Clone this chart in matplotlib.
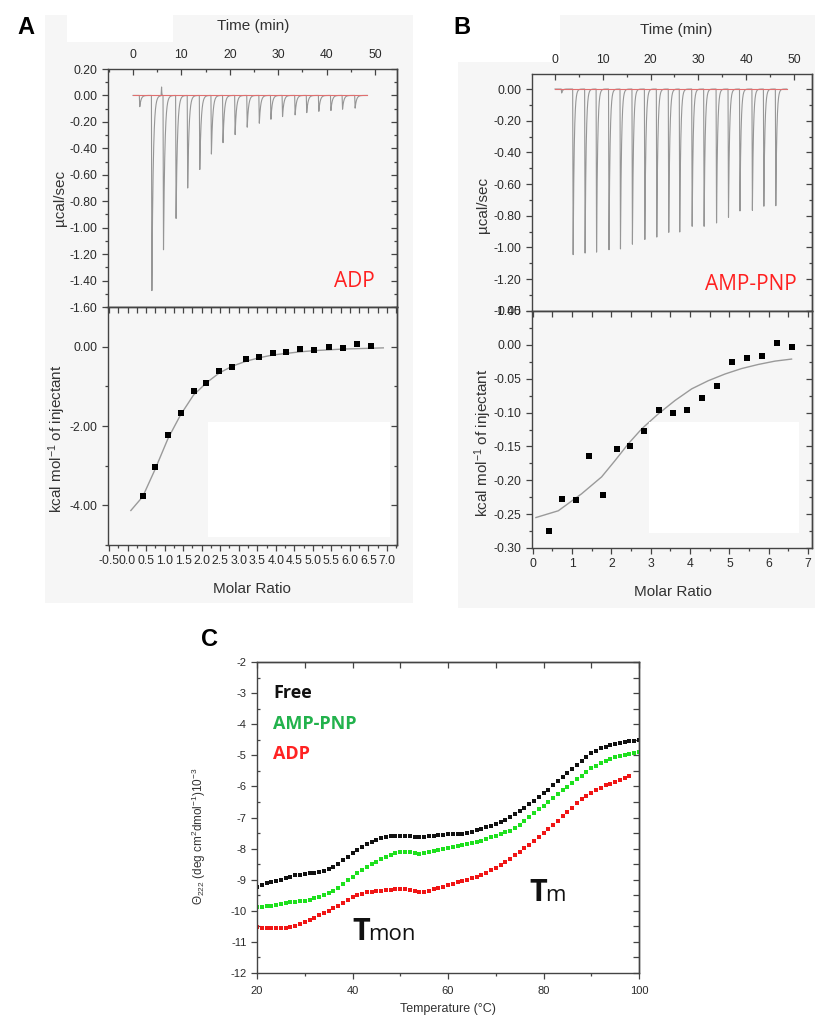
import numpy as np
import matplotlib
matplotlib.use("Agg")
import matplotlib.pyplot as plt
from matplotlib.patches import Rectangle
from matplotlib.ticker import MultipleLocator, FuncFormatter

plt.rcParams['font.family'] = ['Liberation Sans', 'DejaVu Sans']
plt.rcParams['axes.unicode_minus'] = False
plt.rcParams['mathtext.fontset'] = 'custom'
plt.rcParams['mathtext.rm'] = 'Liberation Sans'
plt.rcParams['mathtext.it'] = 'Liberation Sans:italic'

# ---------------- DATA ----------------
# Panel A (ADP) raw ITC: injection times (min) and peak heights (ucal/sec)
A_inj_time = [1.4, 3.9, 6.3, 8.9, 11.3, 13.8, 16.2, 18.6, 21.1, 23.6, 26.1, 28.5,
              30.9, 33.5, 35.9, 38.4, 40.9, 43.3, 45.9]
A_peak = [-0.085, -1.476, -1.167, -0.93, -0.70, -0.56, -0.443, -0.357, -0.296, -0.24,
          -0.21, -0.18, -0.16, -0.147, -0.13, -0.12, -0.114, -0.104, -0.096]
A_spike_time = [5.9]
A_spike = [0.065]
# Panel A integrated heats
A_ratio = [0.41, 0.74, 1.09, 1.43, 1.78, 2.13, 2.48, 2.83, 3.19, 3.55, 3.92, 4.28,
           4.66, 5.04, 5.43, 5.81, 6.19, 6.58]
A_heat = [-3.76, -3.03, -2.23, -1.67, -1.11, -0.91, -0.61, -0.50, -0.30, -0.26, -0.15,
          -0.13, -0.06, -0.08, -0.01, -0.03, 0.06, 0.02]
A_fit_x = [0.09, 0.41, 0.74, 1.09, 1.43, 1.78, 2.13, 2.48, 2.83, 3.19, 3.55, 3.92,
           4.28, 4.66, 5.04, 5.43, 5.81, 6.19, 6.58, 6.9]
A_fit_y = [-4.13, -3.78, -3.10, -2.32, -1.72, -1.22, -0.91, -0.66, -0.49, -0.37, -0.28,
           -0.21, -0.17, -0.13, -0.10, -0.08, -0.06, -0.05, -0.04, -0.03]

# Panel B (AMP-PNP) raw ITC
B_inj_time = [1.4, 3.8, 6.3, 8.7, 11.3, 13.7, 16.2, 18.8, 21.3, 23.8, 26.1, 28.7,
              31.2, 33.8, 36.3, 38.7, 41.3, 43.7, 46.2]
B_peak = [-0.025, -1.046, -1.036, -1.03, -1.015, -1.01, -0.98, -0.95, -0.935, -0.905,
          -0.903, -0.867, -0.867, -0.846, -0.81, -0.77, -0.766, -0.74, -0.737]
# Panel B integrated heats
B_ratio = [0.41, 0.75, 1.09, 1.44, 1.78, 2.13, 2.48, 2.84, 3.21, 3.56, 3.93, 4.31,
           4.68, 5.06, 5.44, 5.83, 6.22, 6.60]
B_heat = [-0.275, -0.227, -0.229, -0.164, -0.222, -0.154, -0.149, -0.127, -0.096,
          -0.101, -0.096, -0.078, -0.061, -0.026, -0.019, -0.017, 0.003, -0.003]
B_fit_x = [0.08, 0.65, 1.24, 1.75, 2.09, 2.43, 2.77, 3.19, 3.62, 4.04, 4.46, 4.89,
           5.31, 5.73, 6.16, 6.58]
B_fit_y = [-0.255, -0.245, -0.220, -0.195, -0.171, -0.146, -0.124, -0.102, -0.082,
           -0.065, -0.053, -0.043, -0.035, -0.029, -0.024, -0.021]

# Panel C: CD melting curves
temp = list(range(20, 101))
free = [-9.22, -9.17, -9.12, -9.08, -9.03, -9.00, -8.95, -8.90, -8.86, -8.84, -8.82,
        -8.79, -8.77, -8.74, -8.71, -8.67, -8.60, -8.50, -8.38, -8.26, -8.14, -8.04,
        -7.94, -7.86, -7.78, -7.72, -7.67, -7.63, -7.60, -7.59, -7.59, -7.60, -7.61,
        -7.63, -7.63, -7.62, -7.60, -7.58, -7.56, -7.55, -7.54, -7.54, -7.53, -7.52,
        -7.50, -7.46, -7.41, -7.36, -7.30, -7.26, -7.21, -7.16, -7.07, -6.99, -6.90,
        -6.80, -6.69, -6.57, -6.46, -6.34, -6.22, -6.10, -5.97, -5.84, -5.71, -5.57,
        -5.44, -5.30, -5.17, -5.04, -4.93, -4.85, -4.78, -4.73, -4.68, -4.64, -4.60,
        -4.58, -4.55, -4.53, -4.51]
amppnp = [-9.89, -9.87, -9.85, -9.83, -9.81, -9.79, -9.76, -9.73, -9.71, -9.69, -9.67,
          -9.64, -9.60, -9.55, -9.50, -9.44, -9.36, -9.26, -9.14, -9.02, -8.90, -8.79,
          -8.68, -8.58, -8.50, -8.42, -8.35, -8.28, -8.21, -8.15, -8.11, -8.10, -8.12,
          -8.15, -8.16, -8.14, -8.10, -8.07, -8.04, -8.00, -7.97, -7.95, -7.92, -7.88,
          -7.85, -7.82, -7.78, -7.74, -7.69, -7.63, -7.58, -7.52, -7.47, -7.42, -7.34,
          -7.24, -7.12, -6.99, -6.86, -6.74, -6.62, -6.50, -6.37, -6.25, -6.13, -6.01,
          -5.89, -5.77, -5.65, -5.53, -5.42, -5.33, -5.25, -5.18, -5.12, -5.07, -5.02,
          -4.98, -4.95, -4.92, -4.90]
temp_adp = list(range(20, 99))
adp = [-10.53, -10.54, -10.55, -10.56, -10.56, -10.55, -10.55, -10.53, -10.50, -10.44,
       -10.37, -10.30, -10.23, -10.15, -10.08, -10.00, -9.92, -9.84, -9.74, -9.64,
       -9.56, -9.50, -9.45, -9.41, -9.38, -9.36, -9.35, -9.34, -9.33, -9.31, -9.29,
       -9.29, -9.32, -9.36, -9.39, -9.38, -9.35, -9.31, -9.27, -9.22, -9.18, -9.13,
       -9.09, -9.05, -9.01, -8.96, -8.90, -8.84, -8.77, -8.70, -8.62, -8.53, -8.44,
       -8.33, -8.22, -8.11, -7.99, -7.87, -7.75, -7.62, -7.49, -7.36, -7.23, -7.10,
       -6.96, -6.82, -6.68, -6.54, -6.42, -6.31, -6.21, -6.12, -6.04, -5.97, -5.91,
       -5.85, -5.79, -5.73, -5.68]

# ---------------- LAYOUT ----------------
W, H = 815, 1018
fig = plt.figure(figsize=(W / 100, H / 100), dpi=100)
GRAY = '#f6f6f6'
SP = '#444444'
TC = '#2a2a2a'


def fx(x):
    return x / W


def fy(y):
    return 1 - y / H


def axes_px(l, t, r, b):
    return fig.add_axes([l / W, 1 - b / H, (r - l) / W, (b - t) / H])


def frect(x0, y0, x1, y1, color, z=-5):
    fig.patches.append(Rectangle((fx(x0), fy(y1)), (x1 - x0) / W, (y1 - y0) / H,
                                 transform=fig.transFigure, facecolor=color,
                                 edgecolor='none', zorder=z))


# gray backgrounds of panels A and B
frect(45, 15, 413, 603, GRAY, -5)
frect(67, 15, 173, 42, 'white', -4)
frect(458, 62, 815, 608, GRAY, -5)
frect(560, 15, 815, 62, GRAY, -5)


def fmt2(v, p):
    return f'{round(v, 2) + 0.0:.2f}'


def fmt1(v, p):
    return f'{round(v, 1) + 0.0:.1f}'


def style(ax, fc=GRAY, ls=8.7):
    ax.set_facecolor(fc)
    for s in ax.spines.values():
        s.set_color(SP)
        s.set_linewidth(1.0)
    ax.tick_params(which='both', colors=SP, labelcolor=TC, labelsize=ls, width=0.9)
    ax.tick_params(which='major', length=4)
    ax.tick_params(which='minor', length=2.5)


def side(ax, loc, major, minor):
    if loc in ('top', 'bottom'):
        s = ax.secondary_xaxis(loc)
        s.xaxis.set_major_locator(MultipleLocator(major))
        s.xaxis.set_minor_locator(MultipleLocator(minor))
        s.tick_params(axis='x', which='both', direction='in', labeltop=False,
                      labelbottom=False, colors=SP, width=0.9)
    else:
        s = ax.secondary_yaxis(loc)
        s.yaxis.set_major_locator(MultipleLocator(major))
        s.yaxis.set_minor_locator(MultipleLocator(minor))
        s.tick_params(axis='y', which='both', direction='in', labelleft=False,
                      labelright=False, colors=SP, width=0.9)
    s.tick_params(which='major', length=4)
    s.tick_params(which='minor', length=2.5)
    for sp in s.spines.values():
        sp.set_color(SP)
        sp.set_linewidth(1.0)
    return s


def raw_trace(t, times, heights, tau):
    y = np.zeros_like(t)
    for ti, hi in zip(times, heights):
        dt = t - ti
        r = (dt >= -0.1) & (dt < 0)
        y[r] += hi * (1 + dt[r] / 0.1)
        d = dt >= 0
        y[d] += hi * np.exp(-dt[d] / tau)
    return y


def raw_panel(ax, times, heights, xlim, ylim, tend, tau, spikes=None):
    style(ax)
    t = np.arange(0.0, tend, 0.005)
    y = raw_trace(t, times, heights, tau)
    if spikes:
        y += raw_trace(t, spikes[0], spikes[1], 0.05)
    ax.plot(t, y, color='#969696', lw=0.8, zorder=3)
    ax.plot([t[0], t[-1]], [0.003, 0.003], color='#e07070', lw=0.8, zorder=4)
    ax.set_xlim(*xlim)
    ax.set_ylim(*ylim)
    ax.xaxis.tick_top()
    ax.xaxis.set_label_position('top')
    ax.xaxis.set_major_locator(MultipleLocator(10))
    ax.xaxis.set_minor_locator(MultipleLocator(5))
    ax.tick_params(axis='x', which='both', direction='in', top=True, bottom=False,
                   labeltop=True, labelbottom=False, pad=6)
    ax.yaxis.set_major_locator(MultipleLocator(0.2))
    ax.yaxis.set_minor_locator(MultipleLocator(0.1))
    ax.yaxis.set_major_formatter(FuncFormatter(fmt2))
    ax.tick_params(axis='y', which='both', direction='out', left=True, right=False)
    side(ax, 'right', 0.2, 0.1)


def heat_panel(ax, xr, yr, fxv, fyv, xlim, ylim, xmaj, xmin, ymaj, ymin, xfmt, yfmt,
               white):
    style(ax)
    ax.plot(fxv, fyv, color='#9a9a9a', lw=1.0, zorder=3)
    ax.plot(xr, yr, 's', color='black', ms=4.6, mew=0, zorder=4)
    ax.set_xlim(*xlim)
    ax.set_ylim(*ylim)
    ax.xaxis.set_major_locator(MultipleLocator(xmaj))
    ax.xaxis.set_minor_locator(MultipleLocator(xmin))
    if xfmt:
        ax.xaxis.set_major_formatter(FuncFormatter(xfmt))
    ax.yaxis.set_major_locator(MultipleLocator(ymaj))
    ax.yaxis.set_minor_locator(MultipleLocator(ymin))
    ax.yaxis.set_major_formatter(FuncFormatter(yfmt))
    ax.tick_params(which='both', direction='out', top=False, right=False)
    ax.tick_params(axis='x', pad=3)
    side(ax, 'top', xmin, xmin)
    side(ax, 'right', ymaj, ymin)
    ax.add_patch(Rectangle((white[0], white[1]), white[2] - white[0], white[3] - white[1],
                           transform=ax.transAxes, facecolor='white', edgecolor='none',
                           zorder=6))


# ---- Panel A ----
axA1 = axes_px(108, 69, 397, 307)
raw_panel(axA1, A_inj_time, A_peak, (-5.17, 54.55), (-1.60, 0.20), 48.4, 0.28,
          spikes=(A_spike_time, A_spike))
axA2 = axes_px(108, 307, 397, 545)
heat_panel(axA2, A_ratio, A_heat, A_fit_x, A_fit_y, (-0.527, 7.27), (-5.0, 1.0),
           0.5, 0.25, 2, 1, fmt1, fmt2, (0.346, 0.034, 0.976, 0.517))

# ---- Panel B ----
axB1 = axes_px(532, 74, 812, 311)
raw_panel(axB1, B_inj_time, B_peak, (-4.81, 53.77), (-1.402, 0.095), 48.5, 0.22)
axB2 = axes_px(532, 311, 812, 548)
heat_panel(axB2, B_ratio, B_heat, B_fit_x, B_fit_y, (-0.02, 7.1), (-0.30, 0.05),
           1, 0.5, 0.05, 0.025, None, fmt2, (0.418, 0.063, 0.954, 0.532))

# axis labels A/B
for (cx, cy, s, rot) in [(253, 26, 'Time (min)', 0), (676, 30, 'Time (min)', 0),
                         (60, 198, 'µcal/sec', 90), (483, 205, 'µcal/sec', 90),
                         (57, 439, 'kcal mol$^{-1}$ of injectant', 90),
                         (483, 443, 'kcal mol$^{-1}$ of injectant', 90),
                         (252, 589, 'Molar Ratio', 0), (673, 592, 'Molar Ratio', 0)]:
    fig.text(fx(cx), fy(cy), s, fontsize=11, rotation=rot, ha='center', va='center',
             color='#333333')

fig.text(fx(354), fy(281), 'ADP', fontsize=15, color='#ff2020', ha='center', va='center',
         family=['Open Sans', 'DejaVu Sans'], zorder=10)
fig.text(fx(751), fy(285), 'AMP-PNP', fontsize=15, color='#ff2020', ha='center',
         va='center', family=['Open Sans', 'DejaVu Sans'], zorder=10)

# ---- Panel C ----
axC = axes_px(257, 662, 639, 973)
style(axC, 'white', 8)
axC.plot(temp, free, 's', color='#111111', ms=2.3, mew=0)
axC.plot(temp, amppnp, 's', color='#1ee01e', ms=2.3, mew=0)
axC.plot(temp_adp, adp, 's', color='#f01515', ms=2.3, mew=0)
axC.set_xlim(20, 100)
axC.set_ylim(-12, -2)
axC.xaxis.set_major_locator(MultipleLocator(20))
axC.xaxis.set_minor_locator(MultipleLocator(10))
axC.yaxis.set_major_locator(MultipleLocator(1))
axC.yaxis.set_minor_locator(MultipleLocator(0.5))
axC.tick_params(which='both', top=False, right=False)
axC.tick_params(axis='x', which='both', direction='out', pad=5)
axC.tick_params(axis='y', which='major', direction='out')
axC.tick_params(axis='y', which='minor', direction='in')
side(axC, 'top', 10, 10)
side(axC, 'right', 0.5, 0.5)
fig.text(fx(448), fy(1009), 'Temperature (°C)', fontsize=9, ha='center', va='center',
         color='#333333')
fig.text(fx(199), fy(836), 'Θ$_{222}$ (deg cm$^2$dmol$^{-1}$)10$^{-3}$', fontsize=8.5,
         rotation=90, ha='center', va='center', color='#333333')

OS = ['Open Sans', 'DejaVu Sans']
fig.text(fx(273), fy(693), 'Free', fontsize=13, fontweight='bold', color='#111111',
         ha='left', va='center', family=OS)
fig.text(fx(273), fy(724), 'AMP-PNP', fontsize=13, fontweight='bold', color='#22b24c',
         ha='left', va='center', family=OS)
fig.text(fx(273), fy(754), 'ADP', fontsize=13, fontweight='bold', color='#ff2222',
         ha='left', va='center', family=OS)
fig.text(fx(352), fy(940), 'T', fontsize=22, color='#111111', ha='left', va='baseline',
         family=OS, fontweight='bold')
fig.text(fx(368), fy(940), 'mon', fontsize=16, color='#111111', ha='left', va='baseline',
         family=OS)
fig.text(fx(529), fy(901), 'T', fontsize=22, color='#111111', ha='left', va='baseline',
         family=OS, fontweight='bold')
fig.text(fx(545), fy(901), 'm', fontsize=16, color='#111111', ha='left', va='baseline',
         family=OS)

# panel letters
for (cx, cy, s) in [(26, 28, 'A'), (462, 28, 'B'), (210, 640, 'C')]:
    fig.text(fx(cx), fy(cy), s, fontsize=17, fontweight='bold', ha='center', va='center')

fig.savefig('out.png', dpi=100)
